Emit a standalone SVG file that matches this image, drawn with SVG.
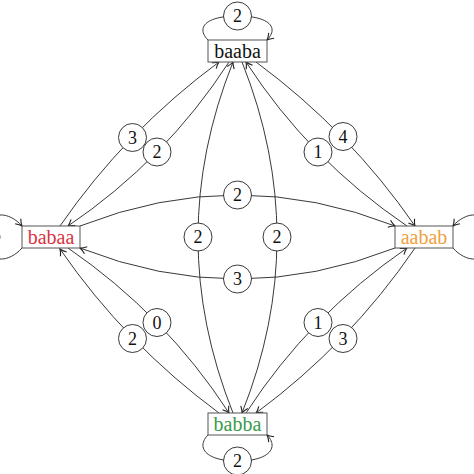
<svg xmlns="http://www.w3.org/2000/svg" width="474" height="474" viewBox="0 0 474 474">
<style>
.box{fill:#fff;stroke:#555;stroke-width:1}
.e{fill:none;stroke:#222;stroke-width:0.9}
.lc{fill:#fff;stroke:#222;stroke-width:0.9}
text{font-family:Liberation Serif,Times New Roman,serif}
</style>
<defs>
<marker id="arr" markerUnits="userSpaceOnUse" markerWidth="10" markerHeight="10" refX="0" refY="0" viewBox="-6 -4 7 8" orient="auto" overflow="visible">
<path d="M-5,-3 Q-2,-0.6 0,0 Q-2,0.6 -5,3" fill="none" stroke="#222" stroke-width="0.9"/>
</marker>
</defs>
<rect width="474" height="474" fill="#fff"/>
<g id="connectors">
<path class="e" marker-end="url(#arr)" d="M60,226 Q125.5,131 219,62"/>
<path class="e" marker-end="url(#arr)" d="M229,62 Q165.5,160 68,226"/>
<path class="e" marker-end="url(#arr)" d="M256,62 Q349.5,131 415,226"/>
<path class="e" marker-end="url(#arr)" d="M407,226 Q309.5,160 246,62"/>
<path class="e" marker-end="url(#arr)" d="M80,226 Q237.5,164 395,226"/>
<path class="e" marker-end="url(#arr)" d="M395,248 Q237.5,310 80,248"/>
<path class="e" marker-end="url(#arr)" d="M242,62 Q312,237.5 242,413"/>
<path class="e" marker-end="url(#arr)" d="M233,413 Q163,237.5 233,62"/>
<path class="e" marker-end="url(#arr)" d="M68,248 Q165.5,315 229,413"/>
<path class="e" marker-end="url(#arr)" d="M219,413 Q125.5,344 60,249"/>
<path class="e" marker-end="url(#arr)" d="M246,413 Q309.5,315 407,248"/>
<path class="e" marker-end="url(#arr)" d="M415,248 Q349.5,344 256,413"/>
<path class="e" marker-end="url(#arr)" d="M208,40 C196,28 205,16 237.5,16 C270,16 279,28 267,40"/>
<path class="e" marker-end="url(#arr)" d="M208,435 C196,447 205,461 237.5,461 C270,461 279,447 267,435"/>
<path class="e" marker-end="url(#arr)" d="M22,248 C10,262 -14,267 -14,237 C-14,207 10,212 22,226"/>
<path class="e" marker-end="url(#arr)" d="M453,248 C465,262 489,267 489,237 C489,207 465,212 453,226"/>
<g font-family="Liberation Serif, serif" font-size="18" text-anchor="middle" fill="#111">
<circle class="lc" cx="132.5" cy="137.5" r="14"/><text x="132.5" y="143.5">3</text>
<circle class="lc" cx="157" cy="152" r="14"/><text x="157" y="158">2</text>
<circle class="lc" cx="343" cy="136.5" r="14"/><text x="343" y="142.5">4</text>
<circle class="lc" cx="318" cy="152" r="14"/><text x="318" y="158">1</text>
<circle class="lc" cx="237.5" cy="195" r="14"/><text x="237.5" y="201">2</text>
<circle class="lc" cx="237.5" cy="279" r="14"/><text x="237.5" y="285">3</text>
<circle class="lc" cx="198" cy="237" r="14"/><text x="198" y="243">2</text>
<circle class="lc" cx="277" cy="237" r="14"/><text x="277" y="243">2</text>
<circle class="lc" cx="157" cy="322.5" r="14"/><text x="157" y="328.5">0</text>
<circle class="lc" cx="132.5" cy="338.5" r="14"/><text x="132.5" y="344.5">2</text>
<circle class="lc" cx="318" cy="322.5" r="14"/><text x="318" y="328.5">1</text>
<circle class="lc" cx="343" cy="338.5" r="14"/><text x="343" y="344.5">3</text>
<circle class="lc" cx="237.5" cy="16" r="14"/><text x="237.5" y="22">2</text>
<circle class="lc" cx="237.5" cy="461" r="14"/><text x="237.5" y="467">2</text>
<circle class="lc" cx="-14" cy="237" r="14"/><text x="-14" y="243">2</text>
<circle class="lc" cx="489" cy="237" r="14"/><text x="489" y="243">2</text>
</g>
</g>
<g font-family="Liberation Serif, serif" font-size="20" text-anchor="middle">
<g id="node-baaba">
<rect class="box" x="208" y="40" width="59" height="22"/>
<text x="237.5" y="57.5" fill="#111">baaba</text>
</g>
<g id="node-babaa">
<rect class="box" x="22" y="226" width="58" height="22"/>
<text x="51" y="243.5" fill="#d9333f">babaa</text>
</g>
<g id="node-aabab">
<rect class="box" x="395" y="226" width="58" height="22"/>
<text x="424" y="243.5" fill="#f0a040">aabab</text>
</g>
<g id="node-babba">
<rect class="box" x="208" y="413" width="59" height="22"/>
<text x="237.5" y="430.5" fill="#3a9a4a">babba</text>
</g>
</g>
</svg>
